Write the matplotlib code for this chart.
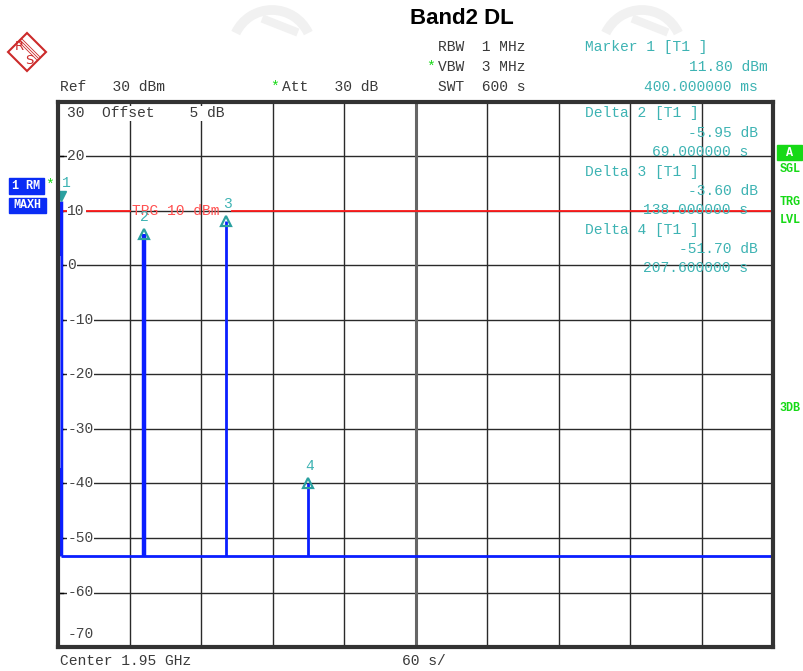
# -*- coding: utf-8 -*-
"""
Band2 DL zero-span capture (R&S analyzer screen), redrawn with matplotlib.
"""

import matplotlib.pyplot as plt
from matplotlib.patches import Arc, Polygon, Rectangle

# ---- data ----
spike_times = [2.9, 71.8, 140.9, 210.0]      # s
spike_levels = [11.8, 5.85, 8.2, -39.9]      # dBm
floor_level = -53.3
sweep_time = 600
ref_level = 30
y_bottom = -70
trigger_level = 10

y_ticks = [20, 10, 0, -10, -20, -30, -40, -50, -60]
y_tick_labels = ["20", "10", "0", "-10", "-20", "-30", "-40", "-50", "-60"]
marker_names = ["1", "2", "3", "4"]

settings_left = ["Ref   30 dBm"]
settings_mid = ["RBW  1 MHz", "VBW  3 MHz", "SWT  600 s"]
marker_block = [
    ("Marker 1 [T1 ]", "11.80 dBm", "400.000000 ms"),
    ("Delta 2 [T1 ]", "-5.95 dB", "69.000000 s"),
    ("Delta 3 [T1 ]", "-3.60 dB", "138.000000 s"),
    ("Delta 4 [T1 ]", "-51.70 dB", "207.600000 s"),
]

MONO = "Liberation Mono"
TEAL = "#3db3b3"
BLUE = "#0a1eff"
GREEN = "#16d916"
TXT = "#3a3a3a"
FS = 10.5

fig = plt.figure(figsize=(8.04, 6.71), dpi=100)
ax = fig.add_axes([58 / 804, 1 - 647 / 671, 715 / 804, 545 / 671])
ax.set_xlim(0, sweep_time)
ax.set_ylim(y_bottom, ref_level)
ax.set_xticks(range(0, sweep_time + 1, 60))
ax.set_yticks(range(y_bottom, ref_level + 1, 10))
ax.tick_params(length=0, labelbottom=False, labelleft=False)
ax.grid(True, color="#2a2a2a", linewidth=1.0)
ax.axvline(300, color="#666666", linewidth=2.2)
for s in ax.spines.values():
    s.set_linewidth(3)
    s.set_color("#333333")

# y labels inside the graticule
lab_tr = ax.get_yaxis_transform()
for v, lab in zip(y_ticks, y_tick_labels):
    ax.text(0.013, v, lab, transform=lab_tr, fontsize=FS, family=MONO, color="#444444",
            va="center", ha="left", bbox=dict(facecolor="white", edgecolor="none", pad=0.5))
    ax.plot([0, 0.007], [v, v], transform=lab_tr, color="black", lw=1)
ax.text(0.013, -67.6, "-70", transform=lab_tr, fontsize=FS, family=MONO, color="#444444",
        va="center", ha="left")
ax.text(0.013, 27.9, "30  Offset    5 dB", transform=lab_tr, fontsize=FS, family=MONO,
        color=TXT, va="center", ha="left",
        bbox=dict(facecolor="white", edgecolor="none", pad=0.5))

# trigger line
ax.axhline(trigger_level, xmin=0, xmax=0.101, color="#ff1a1a", lw=1.3)
ax.axhline(trigger_level, xmin=0.243, xmax=1, color="#ff1a1a", lw=1.3)
ax.text(62.5, trigger_level, "TRG 10 dBm", fontsize=FS, family=MONO, color="#ff5050",
        va="center", ha="left")

# trace
ax.hlines(floor_level, spike_times[0], sweep_time, color=BLUE, lw=2)
ax.vlines(spike_times, floor_level, spike_levels, color=BLUE, lw=[2.5, 3.2, 2, 2])
ax.vlines(spike_times[0] - 1.3, -37.2, 1.8, color="#7f8cff", lw=1.2)

# markers
ax.plot(spike_times[0], spike_levels[0] + 1.0, marker="v", ms=7, color="#2aa0a0", mec="#2aa0a0")
ax.text(spike_times[0] + 0.5, spike_levels[0] + 3.3, marker_names[0], fontsize=FS,
        family=MONO, color=TEAL, ha="left", va="center")
for t, lv, nm in zip(spike_times[1:], spike_levels[1:], marker_names[1:]):
    ax.plot(t, lv, marker="^", ms=6.5, mfc="none", mec="#2aa0a0", mew=1.6)
    ax.text(t + 1, lv + 3.1, nm, fontsize=FS, family=MONO, color=TEAL,
            ha="center", va="center")

# ---- overlay in pixel coordinates for the screen annotations ----
ov = fig.add_axes([0, 0, 1, 1], zorder=5)
ov.set_xlim(0, 804)
ov.set_ylim(671, 0)
ov.axis("off")
ov.patch.set_visible(False)

# faint watermark arcs
for cx in (272, 642):
    ov.add_patch(Arc((cx, 50), 80, 80, theta1=205, theta2=335, color="#f1f1f1", lw=7))
    ov.plot([cx - 6, cx + 22], [20, 31], color="#f1f1f1", lw=6)

# R&S logo
ov.add_patch(Polygon([(27, 33), (46, 52), (27, 71), (8, 52)], closed=True,
                     fill=False, edgecolor="#cc2a2a", lw=1.5))
for d in (-1.5, 0, 1.5):
    ov.plot([20 + d, 38 + d], [40 - d, 58 - d], color="#cc2a2a", lw=0.6)
ov.text(19, 46, "R", fontsize=9.5, color="#cc2a2a", ha="center", va="center")
ov.text(29, 60, "S", fontsize=9.5, color="#cc2a2a", ha="center", va="center")

ov.text(462, 19, "Band2 DL", fontsize=16, fontweight="bold", family="Liberation Sans",
        ha="center", va="center")

ov.text(60, 87, settings_left[0], fontsize=FS, family=MONO, color=TXT, va="center")
ov.text(270, 87, "*", fontsize=FS, family=MONO, color=GREEN, va="center")
ov.text(282, 87, "Att   30 dB", fontsize=FS, family=MONO, color=TXT, va="center")
for i, s in enumerate(settings_mid):
    ov.text(438, 47 + 20 * i, s, fontsize=FS, family=MONO, color=TXT, va="center")
ov.text(426, 67, "*", fontsize=FS, family=MONO, color=GREEN, va="center")

rows = [(47, 67, 87), (113, 133, 152), (172, 191, 210), (230, 249, 268)]
rights = [(768, 758), (758, 748), (758, 748), (758, 748)]
for (title, val, tm), (y1, y2, y3), (r1, r2) in zip(marker_block, rows, rights):
    ov.text(585, y1, title, fontsize=FS, family=MONO, color=TEAL, va="center")
    ov.text(r1, y2, val, fontsize=FS, family=MONO, color=TEAL, va="center", ha="right")
    ov.text(r2, y3, tm, fontsize=FS, family=MONO, color=TEAL, va="center", ha="right")

# left trace info boxes
ov.add_patch(Rectangle((9, 178), 35, 16, color="#0a2cf5"))
ov.add_patch(Rectangle((9, 198), 37, 15, color="#0a2cf5"))
ov.text(26, 186, "1 RM", fontsize=8.5, family=MONO, fontweight="bold", color="white",
        ha="center", va="center")
ov.text(27.5, 205.5, "MAXH", fontsize=8.5, family=MONO, fontweight="bold", color="white",
        ha="center", va="center")
ov.text(50, 185, "*", fontsize=FS, family=MONO, color=GREEN, ha="center", va="center")

# right status labels
ov.add_patch(Rectangle((777, 145), 25, 15, color=GREEN))
ov.text(789.5, 152.5, "A", fontsize=8.5, family=MONO, fontweight="bold", color="white",
        ha="center", va="center")
for lab, y in (("SGL", 169), ("TRG", 202), ("LVL", 220), ("3DB", 408)):
    ov.text(790, y, lab, fontsize=8.5, family=MONO, fontweight="bold", color=GREEN,
            ha="center", va="center")

ov.text(60, 661, "Center 1.95 GHz", fontsize=FS, family=MONO, color=TXT, va="center")
ov.text(402, 661, "60 s/", fontsize=FS, family=MONO, color=TXT, va="center")

fig.savefig("out.png", dpi=100)
